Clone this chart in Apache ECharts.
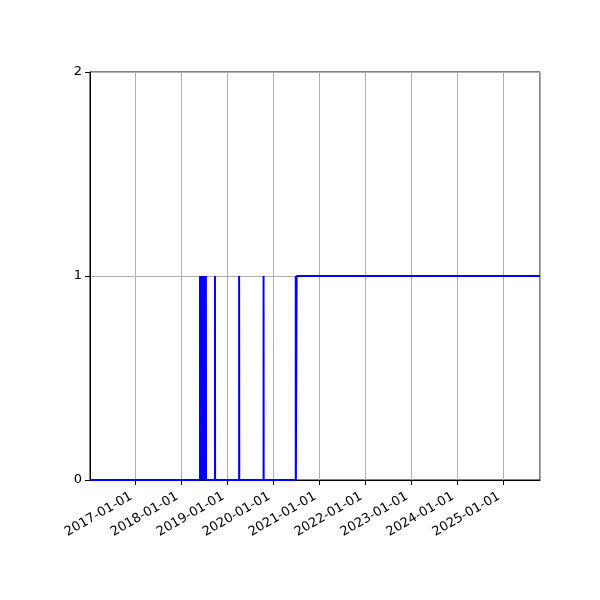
<!DOCTYPE html>
<html>
<head>
<meta charset="utf-8">
<script src="https://cdn.jsdelivr.net/npm/echarts@6/dist/echarts.min.js"></script>
<style>html,body{margin:0;padding:0;background:#fff}#c{width:600px;height:600px}</style>
</head>
<body>
<div id="c"></div>
<script>
// Change points of the status series (value holds from its date onward)
const changeDates = [
  '2016-01-04',
  '2018-05-27', '2018-06-03',
  '2018-06-08', '2018-06-14',
  '2018-06-19', '2018-06-25',
  '2018-06-29', '2018-07-05',
  '2018-07-13', '2018-07-14',
  '2018-09-23', '2018-09-24',
  '2019-04-03', '2019-04-04',
  '2019-10-14', '2019-10-15',
  '2020-06-26', '2020-06-27',
  '2020-07-03',
  '2025-10-19'
];
const statusValues = [
  0,
  1, 0,
  1, 0,
  1, 0,
  1, 0,
  1, 0,
  1, 0,
  1, 0,
  1, 0,
  1, 0,
  1,
  1
];
const yTicks = [0, 1, 2];
const xMin = '2016-01-04';
const xMax = '2025-10-19';

const chart = echarts.init(document.getElementById('c'), null, {renderer: 'canvas'});
const YEAR = 365 * 24 * 3600 * 1000;
chart.setOption({
  animation: false,
  grid: {left: 90, right: 60, top: 72, bottom: 120, show: true, borderColor: '#000', borderWidth: 1, backgroundColor: 'transparent'},
  xAxis: {
    type: 'time',
    min: xMin,
    max: xMax,
    minInterval: YEAR,
    maxInterval: YEAR,
    axisLine: {show: true, lineStyle: {color: '#000', width: 1}},
    axisTick: {show: true, length: 5, lineStyle: {color: '#000'}},
    splitLine: {show: true, lineStyle: {color: '#b0b0b0', width: 1}},
    axisLabel: {
      rotate: 30,
      color: '#000',
      fontFamily: 'DejaVu Sans',
      fontSize: 13,
      margin: 13,
      padding: [0, 5, 0, 0],
      showMinLabel: false,
      showMaxLabel: false,
      formatter: function (v) {
        const d = new Date(v);
        const y = d.getFullYear();
        const m = String(d.getMonth() + 1).padStart(2, '0');
        const dd = String(d.getDate()).padStart(2, '0');
        return y + '-' + m + '-' + dd;
      }
    }
  },
  yAxis: {
    type: 'value',
    min: yTicks[0],
    max: yTicks[yTicks.length - 1],
    interval: 1,
    axisLine: {show: true, lineStyle: {color: '#000', width: 1}},
    axisTick: {show: true, length: 5, lineStyle: {color: '#000'}},
    splitLine: {show: true, lineStyle: {color: '#b0b0b0', width: 1}},
    axisLabel: {color: '#000', fontFamily: 'DejaVu Sans', fontSize: 13, margin: 8}
  },
  series: [{
    type: 'line',
    step: 'end',
    symbol: 'none',
    data: changeDates.map((d, i) => [d, statusValues[i]]),
    lineStyle: {color: '#0000ff', width: 2},
    z: 5
  }]
});
</script>
</body>
</html>
